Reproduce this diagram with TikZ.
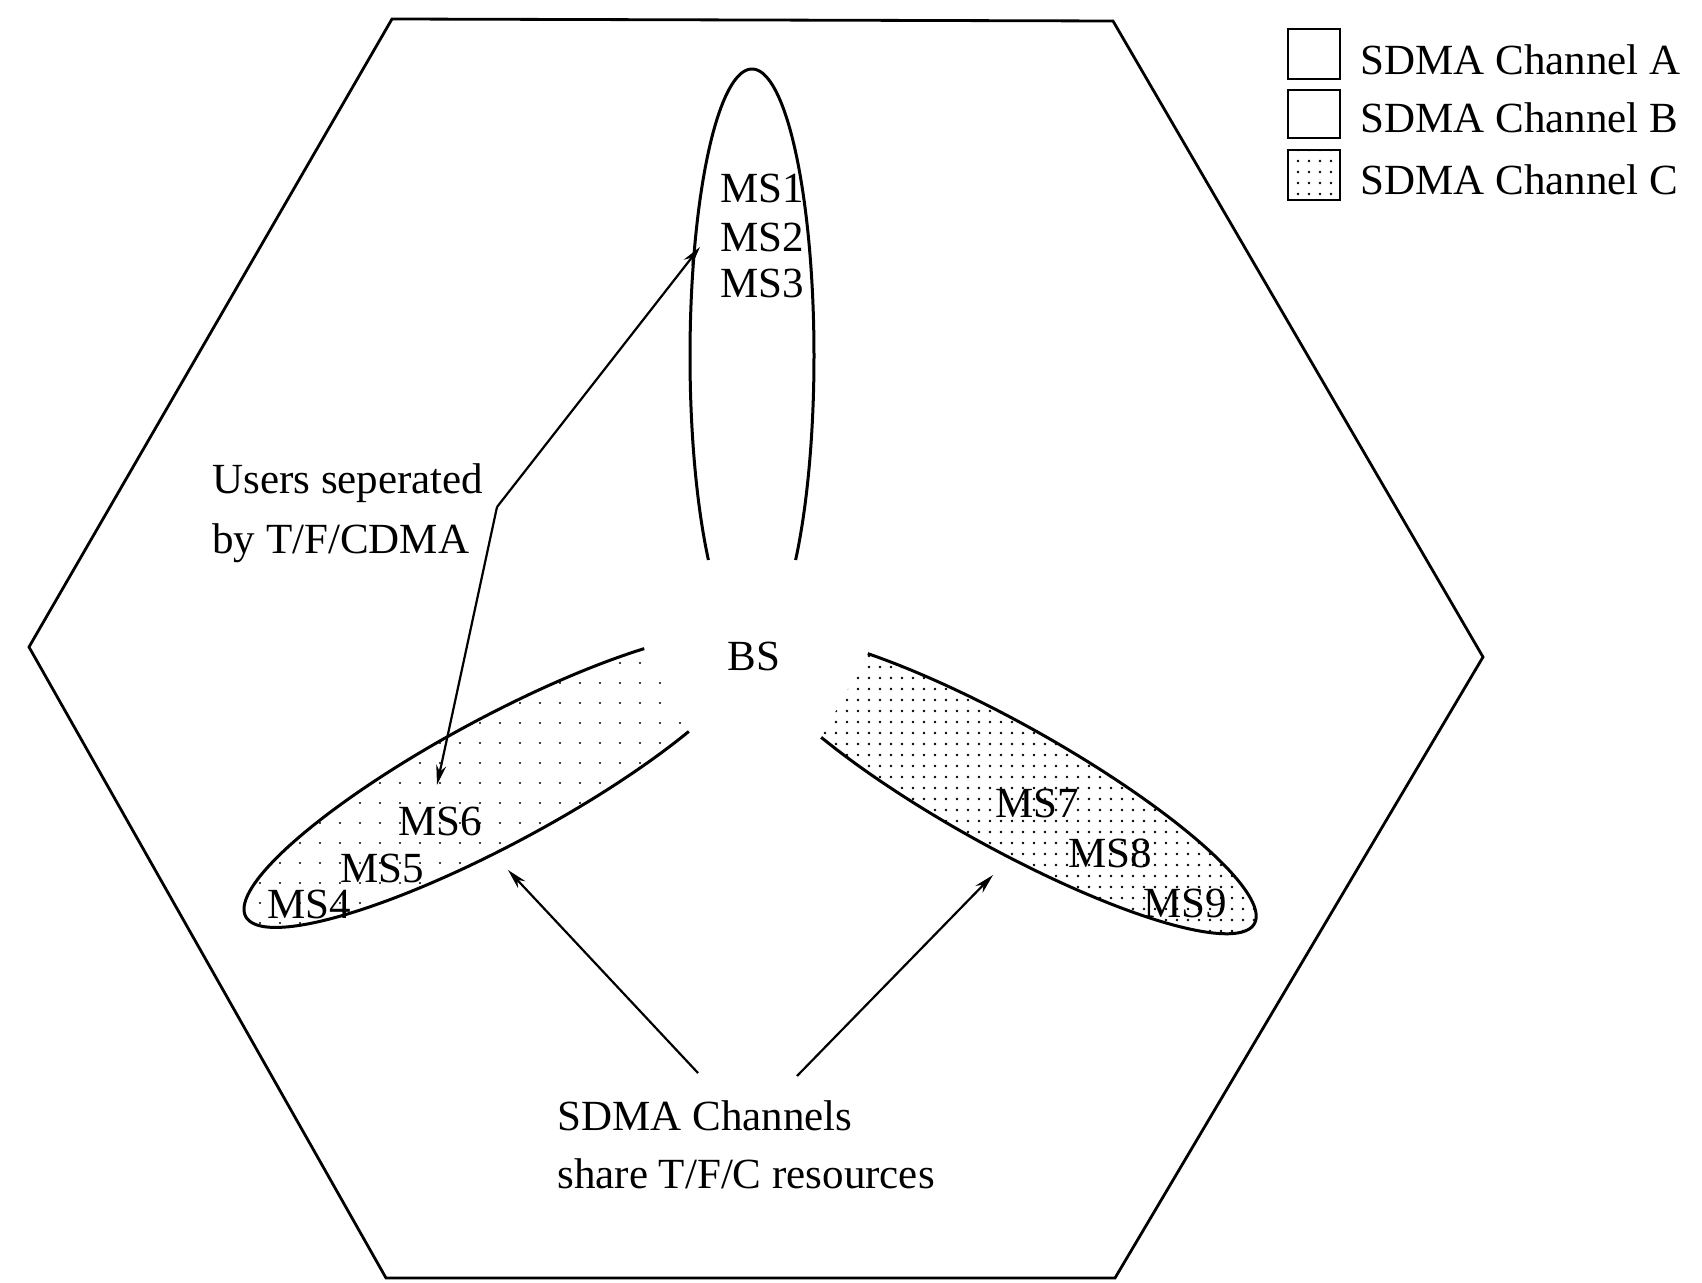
\documentclass[tikz,border=0pt]{standalone}
\usepackage{fontspec}
\setmainfont{Liberation Serif}
\usetikzlibrary{patterns.meta,arrows.meta}
\begin{document}
\begin{tikzpicture}[x=0.5pt,y=0.5pt,
  lbl/.style={inner sep=0pt, anchor=base west, font=\fontsize{21.5}{30}\selectfont},
  petal/.style={line width=1.5pt},
  arr/.style={line width=1.1pt, -{Stealth[length=10pt,width=5pt]}},
  sparse/.style={pattern={Dots[distance=10pt,radius=0.55pt]}},
  dense/.style={pattern={Dots[distance=5.5pt,radius=0.7pt]}},
  legbox/.style={draw, line width=1.2pt, minimum width=26pt, minimum height=25pt, inner sep=0pt},
]
\useasboundingbox (0,0) rectangle (1702,-1283);
\coordinate (O) at (752,-644);
% cell hexagon
\draw[line width=1.4pt] (392,-19) -- (1113,-21) -- (1483,-657) -- (1115,-1278) -- (386,-1278) -- (29,-647) -- cycle;

% petal A (top)
\begin{scope}[shift={(O)}, rotate=90]
  \draw[petal] plot[domain=-135.3:135.3, samples=150, variable=\t] ({288+287*cos(\t)},{62*sin(\t)});
\end{scope}
% petal B (left)
\begin{scope}[shift={(O)}, rotate=208.3]
  \path[sparse] plot[domain=-131.7:131.7, samples=150, variable=\t] ({288+287*cos(\t)},{63*sin(\t)}) -- cycle;
  \draw[petal] plot[domain=-131.7:131.7, samples=150, variable=\t] ({288+287*cos(\t)},{63*sin(\t)});
\end{scope}
% petal C (right)
\begin{scope}[shift={(O)}, rotate=330.9]
  \path[dense] plot[domain=-129.4:129.4, samples=150, variable=\t] ({288+287*cos(\t)},{62*sin(\t)}) -- cycle;
  \draw[petal] plot[domain=-129.4:129.4, samples=150, variable=\t] ({288+287*cos(\t)},{62*sin(\t)});
\end{scope}

% labels
\node[lbl] (bs) at (727,-670) {BS};
\node[lbl] (ms1) at (720,-203) {MS1};
\node[lbl] (ms2) at (720,-252) {MS2};
\node[lbl] (ms3) at (720,-298) {MS3};
\node[lbl] (ms6) at (398,-835) {MS6};
\node[lbl] (ms5) at (340,-882) {MS5};
\node[lbl] (ms4) at (267,-918) {MS4};
\node[lbl] (ms7) at (995,-817) {MS7};
\node[lbl] (ms8) at (1068,-867) {MS8};
\node[lbl] (ms9) at (1143,-917) {MS9};

\node[lbl, anchor=north west, align=left] (users) at (212,-463) {Users seperated\\by T/F/CDMA};
\node[lbl, anchor=north west, align=left, font=\fontsize{21.5}{29}\selectfont] (share) at (557,-1100) {SDMA Channels\\share T/F/C resources};

% connectors
\coordinate (ucorner) at (497,-507);
\coordinate (tipA) at (700,-247);
\coordinate (tipB) at (437,-785);
\draw[arr] (ucorner) -- (tipA);
\draw[arr] (ucorner) -- (tipB);

\coordinate (sl) at (698,-1073);
\coordinate (sr) at (797,-1076);
\coordinate (tipBl) at (508,-870);
\coordinate (tipC) at (993,-875);
\draw[arr] (sl) -- (tipBl);
\draw[arr] (sr) -- (tipC);

% legend
\node[legbox] (kA) at (1314,-54) {};
\node[legbox, minimum height=24pt] (kB) at (1314,-114) {};
\node[legbox, dense] (kC) at (1314,-175) {};
\node[lbl] (tA) at (1360,-75) {SDMA Channel A};
\node[lbl] (tB) at (1360,-133) {SDMA Channel B};
\node[lbl] (tC) at (1360,-195) {SDMA Channel C};
\end{tikzpicture}
\end{document}
